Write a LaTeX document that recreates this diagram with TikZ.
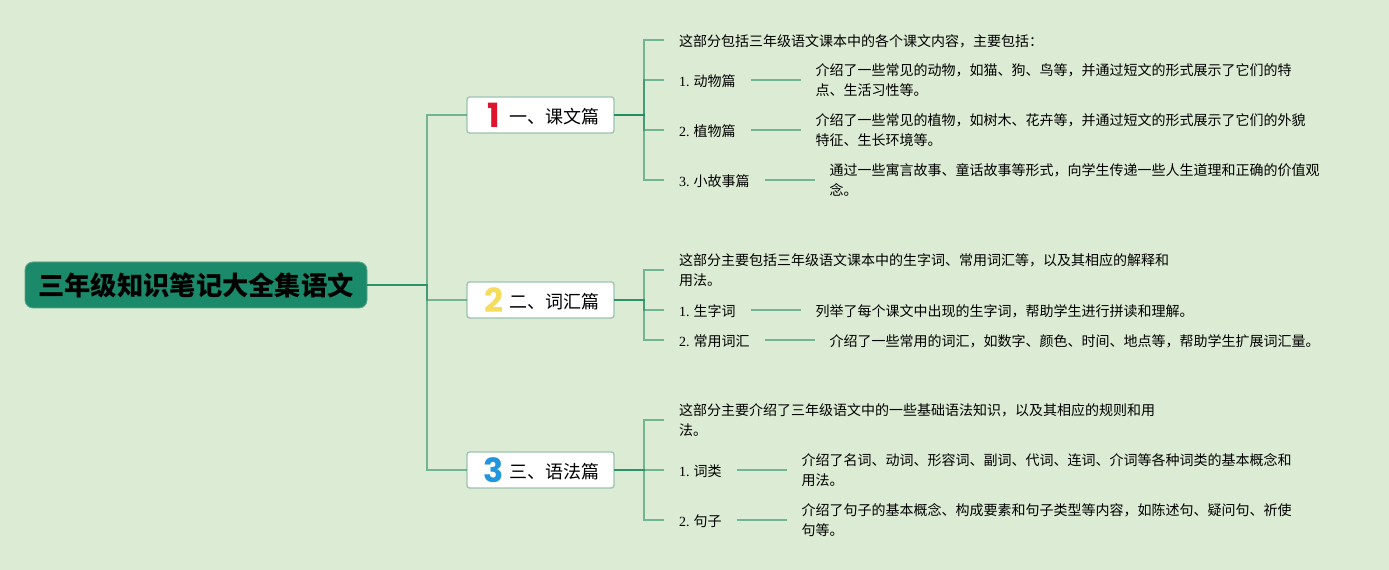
\documentclass[tikz,border=0pt]{standalone}
\usepackage{fontspec}
\usepackage{xcolor}
\usetikzlibrary{positioning}
\setmainfont{Noto Sans CJK SC}
\newfontfamily\latinfont{Liberation Serif}
\newfontfamily\numfont{Poppins}
\definecolor{softbg}{RGB}{220,235,211}
\definecolor{rootgreen}{RGB}{27,138,107}
\definecolor{rootedge}{RGB}{90,165,135}
\definecolor{linkgreen}{RGB}{27,138,95}
\definecolor{boxedge}{RGB}{156,196,176}
\definecolor{numred}{RGB}{224,20,46}
\definecolor{numyellow}{RGB}{245,220,90}
\definecolor{numblue}{RGB}{33,150,220}
\newcommand{\brlabel}[3]{\makebox[20.25pt][c]{\raisebox{-3pt}{\fontsize{25}{25}\selectfont\numfont\bfseries\color{#1}#2}\kern2.25pt}#3}
\newcommand{\leaflabel}[2]{{\latinfont #1} #2}

\begin{document}
\begin{tikzpicture}
\tikzstyle{rootbox}=[draw=rootedge,fill=rootgreen,line width=.6pt,rounded corners=6pt,minimum width=256.5pt,minimum height=34.5pt,outer sep=0pt,font=\fontsize{19.7}{24}\selectfont\bfseries]
\tikzstyle{branchbox}=[draw=boxedge,fill=white,line width=1pt,rounded corners=2pt,minimum height=27pt,inner xsep=11.25pt,inner ysep=0pt,text width=87.75pt,align=right,outer sep=0pt,font=\fontsize{13.5}{16}\selectfont]
\tikzstyle{textbox}=[inner xsep=11.25pt,inner ysep=0pt,align=left,outer sep=0pt,font=\fontsize{10.5}{15}\selectfont,execute at begin node={\rule{0pt}{10.7pt}}]
\tikzstyle{link}=[draw=linkgreen,draw opacity=.55,line width=1.1pt]
\fill[softbg] (0,0) rectangle (1041.75pt,427.5pt);
\useasboundingbox (0,0) rectangle (1041.75pt,427.5pt);
\node[rootbox] (root) at (147pt,213.75pt) {三年级知识笔记大全集语文};
\coordinate[right=45pt of root] (trunk);
\node[branchbox,right=75pt of root,yshift=127.5pt] (br1) {\brlabel{numred}{1}{一、课文篇}};
\node[branchbox,right=75pt of root,yshift=-11.25pt] (br2) {\brlabel{numyellow}{2}{二、词汇篇}};
\node[branchbox,right=75pt of root,yshift=-138.75pt] (br3) {\brlabel{numblue}{3}{三、语法篇}};
\draw[link] (root.east) -- (trunk) |- (br1.west);
\draw[link] (root.east) -- (trunk) |- (br2.west);
\draw[link] (root.east) -- (trunk) |- (br3.west);
\coordinate[right=22.5pt of br1] (bus1);
\node[textbox,right=37.5pt of br1,yshift=56.25pt] (intro1) {这部分包括三年级语文课本中的各个课文内容，主要包括：};
\node[textbox,right=37.5pt of br1,yshift=26.25pt] (lf11) {\leaflabel{1.}{动物篇}};
\node[textbox,right=37.5pt of br1,yshift=-11.25pt] (lf12) {\leaflabel{2.}{植物篇}};
\node[textbox,right=37.5pt of br1,yshift=-48.75pt] (lf13) {\leaflabel{3.}{小故事篇}};
\node[textbox,right=37.5pt of lf11] (ds11) {介绍了一些常见的动物，如猫、狗、鸟等，并通过短文的形式展示了它们的特\\点、生活习性等。};
\node[textbox,right=37.5pt of lf12] (ds12) {介绍了一些常见的植物，如树木、花卉等，并通过短文的形式展示了它们的外貌\\特征、生长环境等。};
\node[textbox,right=37.5pt of lf13] (ds13) {通过一些寓言故事、童话故事等形式，向学生传递一些人生道理和正确的价值观\\念。};
\draw[link] (br1.east) -- (bus1) |- (intro1.west);
\draw[link] (br1.east) -- (bus1) |- (lf11.west);
\draw[link] (br1.east) -- (bus1) |- (lf12.west);
\draw[link] (br1.east) -- (bus1) |- (lf13.west);
\draw[link] (lf11) -- (ds11);
\draw[link] (lf12) -- (ds12);
\draw[link] (lf13) -- (ds13);
\coordinate[right=22.5pt of br2] (bus2);
\node[textbox,right=37.5pt of br2,yshift=22.5pt] (intro2) {这部分主要包括三年级语文课本中的生字词、常用词汇等，以及其相应的解释和\\用法。};
\node[textbox,right=37.5pt of br2,yshift=-7.5pt] (lf21) {\leaflabel{1.}{生字词}};
\node[textbox,right=37.5pt of br2,yshift=-30pt] (lf22) {\leaflabel{2.}{常用词汇}};
\node[textbox,right=37.5pt of lf21] (ds21) {列举了每个课文中出现的生字词，帮助学生进行拼读和理解。};
\node[textbox,right=37.5pt of lf22] (ds22) {介绍了一些常用的词汇，如数字、颜色、时间、地点等，帮助学生扩展词汇量。};
\draw[link] (br2.east) -- (bus2) |- (intro2.west);
\draw[link] (br2.east) -- (bus2) |- (lf21.west);
\draw[link] (br2.east) -- (bus2) |- (lf22.west);
\draw[link] (lf21) -- (ds21);
\draw[link] (lf22) -- (ds22);
\coordinate[right=22.5pt of br3] (bus3);
\node[textbox,right=37.5pt of br3,yshift=37.5pt] (intro3) {这部分主要介绍了三年级语文中的一些基础语法知识，以及其相应的规则和用\\法。};
\node[textbox,right=37.5pt of br3] (lf31) {\leaflabel{1.}{词类}};
\node[textbox,right=37.5pt of br3,yshift=-37.5pt] (lf32) {\leaflabel{2.}{句子}};
\node[textbox,right=37.5pt of lf31] (ds31) {介绍了名词、动词、形容词、副词、代词、连词、介词等各种词类的基本概念和\\用法。};
\node[textbox,right=37.5pt of lf32] (ds32) {介绍了句子的基本概念、构成要素和句子类型等内容，如陈述句、疑问句、祈使\\句等。};
\draw[link] (br3.east) -- (bus3) |- (intro3.west);
\draw[link] (br3.east) -- (lf31.west);
\draw[link] (br3.east) -- (bus3) |- (lf32.west);
\draw[link] (lf31) -- (ds31);
\draw[link] (lf32) -- (ds32);
\end{tikzpicture}
\end{document}
